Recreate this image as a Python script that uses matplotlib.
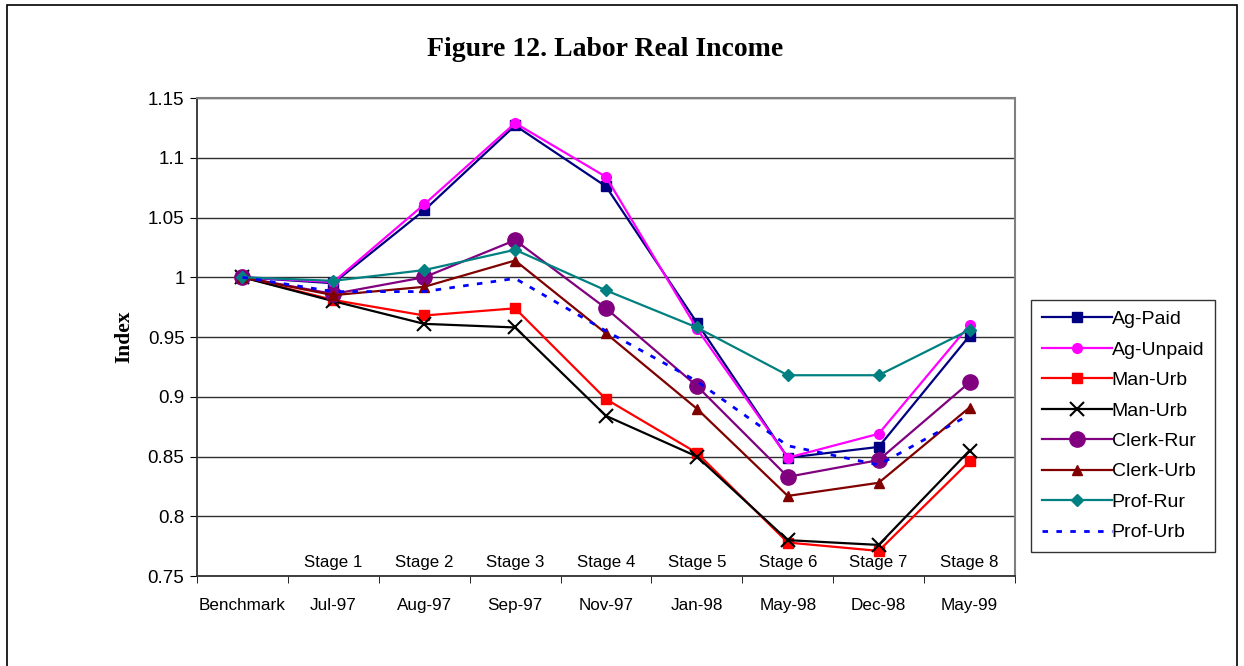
import matplotlib
matplotlib.use('Agg')
import matplotlib.pyplot as plt
from matplotlib.patches import Rectangle
import numpy as np

plt.rcParams['font.family'] = ['Liberation Sans', 'DejaVu Sans']

months = ['Benchmark', 'Jul-97', 'Aug-97', 'Sep-97', 'Nov-97',
          'Jan-98', 'May-98', 'Dec-98', 'May-99']
stages = ['', 'Stage 1', 'Stage 2', 'Stage 3', 'Stage 4',
          'Stage 5', 'Stage 6', 'Stage 7', 'Stage 8']

ag_paid = [1.0, 0.995, 1.056, 1.127, 1.076, 0.962, 0.849, 0.858, 0.951]
ag_unpaid = [1.0, 0.996, 1.061, 1.129, 1.084, 0.957, 0.849, 0.869, 0.960]
man_urb_1 = [1.0, 0.981, 0.968, 0.974, 0.898, 0.853, 0.778, 0.771, 0.846]
man_urb_2 = [1.0, 0.980, 0.961, 0.958, 0.884, 0.850, 0.780, 0.776, 0.855]
clerk_rur = [1.0, 0.986, 1.000, 1.031, 0.974, 0.909, 0.833, 0.847, 0.912]
clerk_urb = [1.0, 0.985, 0.992, 1.014, 0.953, 0.890, 0.817, 0.828, 0.891]
prof_rur = [1.0, 0.997, 1.006, 1.023, 0.989, 0.958, 0.918, 0.918, 0.956]
prof_urb = [1.0, 0.988, 0.988, 0.999, 0.955, 0.913, 0.859, 0.843, 0.885]

labels = ['Ag-Paid', 'Ag-Unpaid', 'Man-Urb', 'Man-Urb',
          'Clerk-Rur', 'Clerk-Urb', 'Prof-Rur', 'Prof-Urb']
series = [ag_paid, ag_unpaid, man_urb_1, man_urb_2,
          clerk_rur, clerk_urb, prof_rur, prof_urb]

styles = [
    dict(color='#000080', marker='s', ms=7),
    dict(color='#FF00FF', marker='o', ms=7),
    dict(color='#FF0000', marker='s', ms=7.5),
    dict(color='#000000', marker='x', ms=10, mew=1.5),
    dict(color='#800080', marker='o', ms=11),
    dict(color='#800000', marker='^', ms=7.5),
    dict(color='#008080', marker='D', ms=6.5),
    dict(color='#0000FF', marker=None, ls=(0, (2, 3)), lw=2),
]

fig = plt.figure(figsize=(12.44, 6.66), dpi=100)
# outer chart-area frame (bottom edge runs off the picture)
fig.patches.append(Rectangle((7 / 1244, -0.1), 1230 / 1244, 1.1 - 5 / 666,
                             transform=fig.transFigure, fill=False,
                             edgecolor='black', lw=1.2))

ax = fig.add_axes([197 / 1244, 1 - 576 / 666, 818 / 1244, 478 / 666])
x = np.arange(len(months))

for y, lab, st in zip(series, labels, styles):
    kw = dict(lw=1.6, ls='-')
    kw.update(st)
    ax.plot(x, y, label=lab, **kw)

ax.set_xlim(-0.5, len(months) - 0.5)
ax.set_ylim(0.75, 1.15)
ax.set_yticks(np.arange(0.75, 1.151, 0.05))
ax.set_yticklabels(['0.75', '0.8', '0.85', '0.9', '0.95', '1',
                    '1.05', '1.1', '1.15'], fontsize=13.5)
ax.yaxis.grid(True, color='#303030', lw=1)
ax.set_axisbelow(True)

ax.set_xticks(x)
ax.set_xticklabels(months, fontsize=12.3)
ax.set_xticks(np.arange(-0.5, len(months), 1), minor=True)
ax.tick_params(axis='x', which='major', length=0, pad=16)
ax.tick_params(axis='x', which='minor', length=5, direction='out')
ax.tick_params(axis='y', length=5, direction='out', pad=4)

for xi, s in zip(x, stages):
    ax.text(xi, 0.761, s, ha='center', va='center', fontsize=12.2)

for side in ['top', 'right']:
    ax.spines[side].set_color('#808080')
    ax.spines[side].set_linewidth(1.5)
ax.spines['left'].set_color('#303030')
ax.spines['bottom'].set_color('#303030')
ax.spines['left'].set_linewidth(1.3)
ax.spines['bottom'].set_linewidth(1.3)

ax.set_ylabel('Index', family='Liberation Serif', fontweight='bold',
              fontsize=15.5, labelpad=10)
fig.text(605 / 1244, 1 - 50 / 666, 'Figure 12. Labor Real Income',
         family='Liberation Serif', fontweight='bold', fontsize=20,
         ha='center', va='center')

leg = ax.legend(loc='center left', bbox_to_anchor=(1031 / 1244, 1 - 426 / 666),
                bbox_transform=fig.transFigure, fontsize=14,
                frameon=True, fancybox=False, edgecolor='black',
                handlelength=3.6, handletextpad=0.0, labelspacing=0.66,
                borderpad=0.55, borderaxespad=0)
leg.get_frame().set_linewidth(1)

fig.savefig('out.png', dpi=100)
